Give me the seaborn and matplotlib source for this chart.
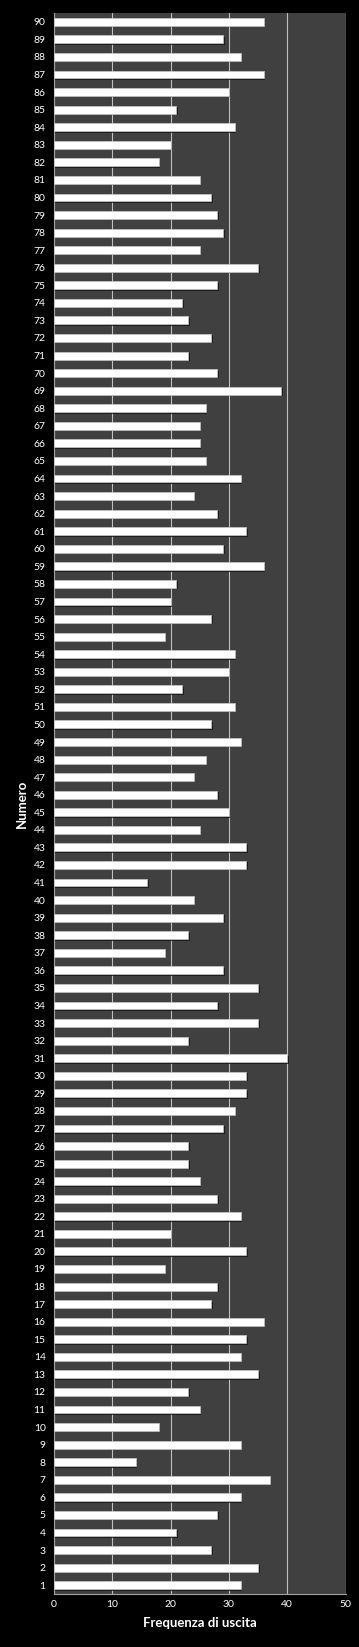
import matplotlib
matplotlib.use('Agg')
import matplotlib.pyplot as plt
import matplotlib.patheffects as pe
import seaborn as sns
import pandas as pd

# numero estratto -> frequenza di uscita (1..90)
numeri = [str(n) for n in range(1, 91)]
frequenze = [32, 35, 27, 21, 28, 32, 37, 14, 32, 18,
             25, 23, 35, 32, 33, 36, 27, 28, 19, 33,
             20, 32, 28, 25, 23, 23, 29, 31, 33, 33,
             40, 23, 35, 28, 35, 29, 19, 23, 29, 24,
             16, 33, 33, 25, 30, 28, 24, 26, 32, 27,
             31, 22, 30, 31, 19, 27, 20, 21, 36, 29,
             33, 28, 24, 32, 26, 25, 25, 26, 39, 28,
             23, 27, 23, 22, 28, 35, 25, 29, 28, 27,
             25, 18, 20, 31, 21, 30, 36, 32, 29, 36]
x_ticks = [0, 10, 20, 30, 40, 50]

df = pd.DataFrame({'Numero': numeri, 'Frequenza': frequenze})

sns.set_style('dark')
plt.rcParams['font.family'] = ['Lato', 'DejaVu Sans']

fig = plt.figure(figsize=(3.59, 16.47), dpi=100, facecolor='black')
ax = fig.add_axes([0.1504, 0.0322, 0.8123, 0.9599])
ax.set_facecolor('#404040')

sns.barplot(data=df, x='Frequenza', y='Numero', order=numeri[::-1],
            orient='h', color='white', width=0.45, saturation=1,
            edgecolor='#c8c8c8', linewidth=0.5, ax=ax, zorder=3)
for p in ax.patches:
    p.set_path_effects([pe.SimplePatchShadow(offset=(1, -1), shadow_rgbFace='#151515', alpha=0.8),
                        pe.Normal()])

ax.set_xlim(0, 50)
ax.set_xticks(x_ticks)
ax.grid(axis='x', color='#bfbfbf', linewidth=0.8, zorder=0)
ax.grid(axis='y', visible=False)
ax.set_axisbelow(True)

ax.tick_params(axis='both', colors='white', labelsize=7.5, length=0, pad=4)
ax.tick_params(axis='y', pad=6)
for s in ['top', 'right']:
    ax.spines[s].set_visible(False)
for s in ['left', 'bottom']:
    ax.spines[s].set_color('#a0a0a0')
    ax.spines[s].set_linewidth(0.8)

ax.set_xlabel('Frequenza di uscita', color='white', fontsize=9.5, fontweight='bold', labelpad=6)
ax.set_ylabel('Numero', color='white', fontsize=9.5, fontweight='bold', labelpad=4)

fig.savefig('out.png', dpi=100, facecolor='black')
